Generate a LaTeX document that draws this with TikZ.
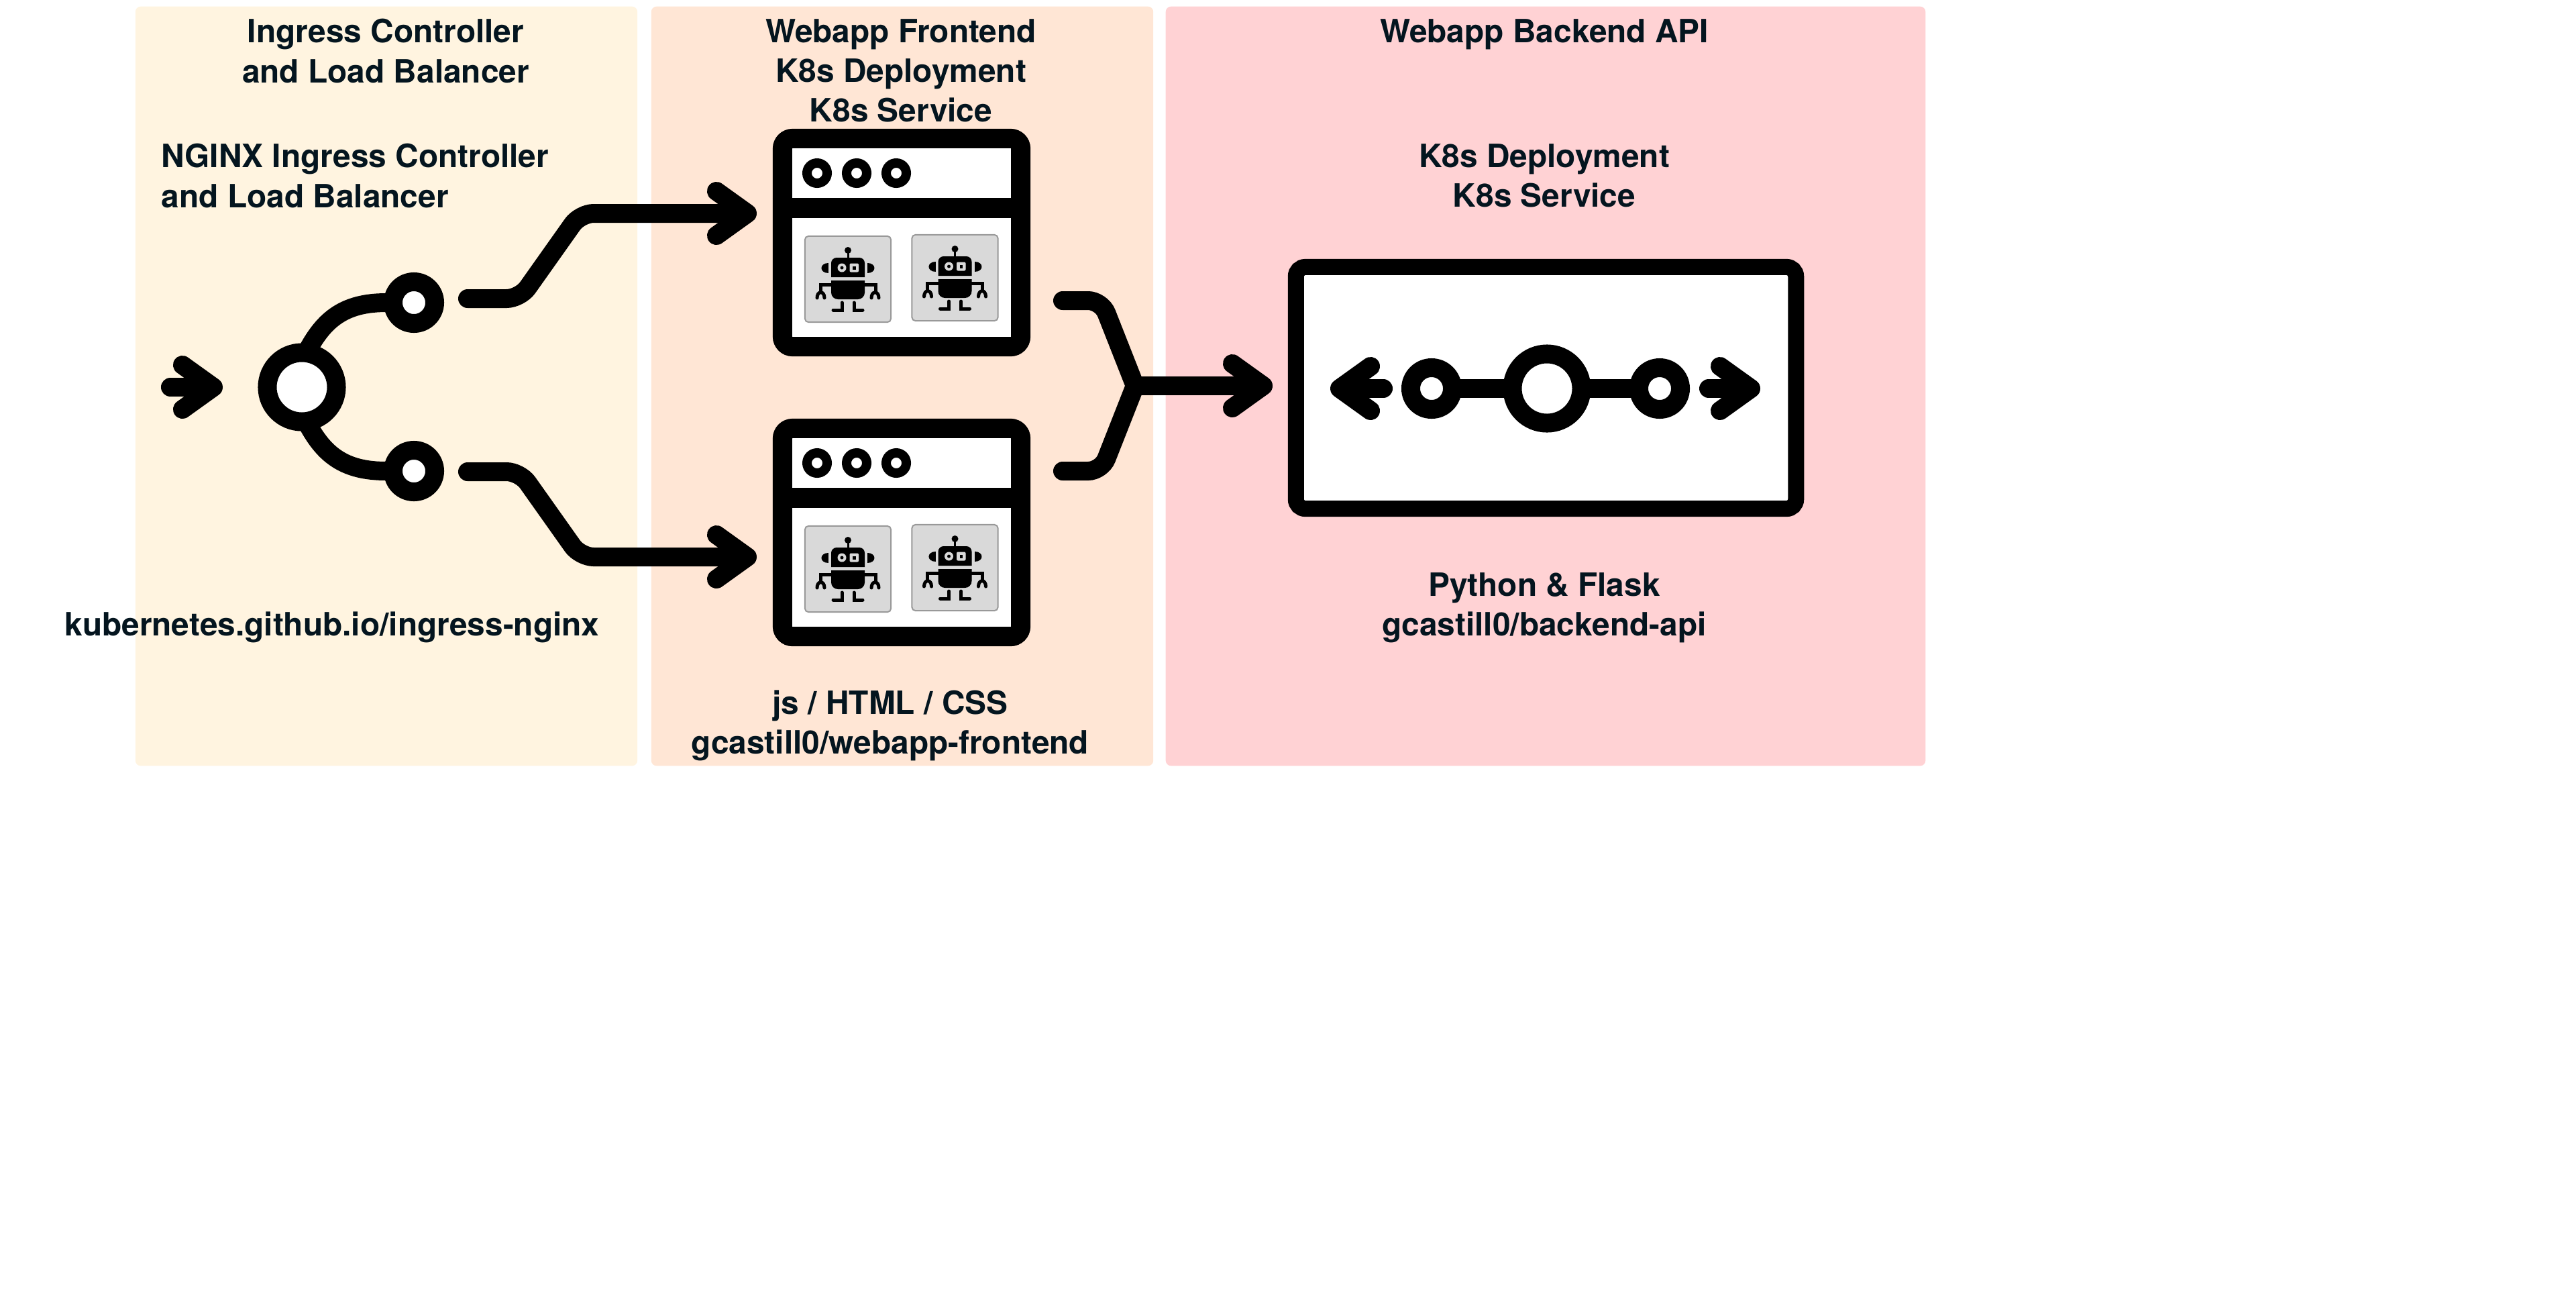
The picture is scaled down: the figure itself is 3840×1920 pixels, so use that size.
\documentclass[tikz,border=0pt]{standalone}
\usepackage{fontspec}
\setmainfont{TeX Gyre Heros}
\usetikzlibrary{arrows.meta}
\definecolor{panA}{RGB}{255,244,224}
\definecolor{panB}{RGB}{255,230,213}
\definecolor{panC}{RGB}{255,210,212}
\definecolor{lbl}{RGB}{4,21,31}
\definecolor{podfill}{RGB}{217,217,217}
\definecolor{podline}{RGB}{153,153,153}

\begin{document}
\begin{tikzpicture}[
  x=0.01cm, y=-0.01cm,
  pan/.style={rectangle, rounded corners=0.08cm, inner sep=0pt, minimum height=11.31cm},
  ttl/.style={font=\fontsize{13.6}{16.8}\selectfont\bfseries, align=center, text=lbl, inner sep=0pt},
  fan/.style={circle, draw=black, fill=white, inner sep=0pt},
  wire/.style={draw=black, line width=0.28cm, line cap=round, rounded corners=0.2cm},
  flow/.style={wire, -{Straight Barb[round,length=0.46cm,width=0.66cm]}},
  stub/.style={draw=black, line width=0.28cm},
  win/.style={rectangle, draw=black, fill=white, line width=0.29cm, rounded corners=0.15cm,
              minimum width=3.55cm, minimum height=3.10cm, inner sep=0pt},
  dot/.style={circle, draw=black, fill=white, line width=0.14cm, minimum size=0.3cm, inner sep=0pt},
  pod/.style={rectangle, draw=podline, fill=podfill, line width=0.02cm, rounded corners=0.05cm,
              minimum size=1.28cm, inner sep=0pt},
  limb/.style={draw=black, line width=0.05cm, line cap=round},
  robot/.pic={
    \fill (0,-43) circle (5);
    \draw[line width=0.03cm] (0,-43) -- (0,-30);
    \fill (-25,-3) [rounded corners=0.08cm] -- (-25,-32) -- (25,-32) [sharp corners] -- (25,-3) -- cycle;
    \fill (-25,2) -- (25,2) [rounded corners=0.1cm] -- (25,30) -- (-25,30) [sharp corners] -- cycle;
    \fill (-29,-24) .. controls (-43,-24) and (-43,-9) .. (-29,-9) -- cycle;
    \fill (29,-24) .. controls (43,-24) and (43,-9) .. (29,-9) -- cycle;
    \fill[podfill] (-9,-17) circle (6.5);
    \fill (-9,-17) circle (2.5);
    \fill[podfill, rounded corners=0.02cm] (2.5,-23.5) rectangle (16,-10.5);
    \fill (7,-19) rectangle (11.5,-14.5);
    \draw[limb] (-25,8) -- (-41,8) -- (-41,19);
    \draw[limb] (25,8) -- (41,8) -- (41,19);
    \draw[limb] (-46,28) .. controls (-46,17) and (-35,17) .. (-35,28);
    \draw[limb] (35,28) .. controls (35,17) and (46,17) .. (46,28);
    \draw[limb] (-9,35) -- (-9,46) -- (-22,46);
    \draw[limb] (9,35) -- (9,46) -- (22,46);
  },
  webwin/.pic={
    \node[win] (-box) at (0,0) {};
    \draw[draw=black, line width=0.30cm] (-box.west) ++(0,-51.5) -- ++(384,0);
    \node[dot] (-d1) at (-126,-103.5) {};
    \node[dot] (-d2) at (-67,-103.5) {};
    \node[dot] (-d3) at (-8,-103.5) {};
    \node[pod] (-p1) at (-80,54.5) {};
    \node[pod] (-p2) at (79.5,52.5) {};
    \pic at (-p1.center) {robot};
    \pic at (-p2.center) {robot};
  },
]
\useasboundingbox (0,0) rectangle (3840,1920);

% ============ panels ============
\node[pan, fill=panA, minimum width=7.48cm] (ingress) at (576,575.5) {};
\node[pan, fill=panB, minimum width=7.48cm] (front) at (1345,575.5) {};
\node[pan, fill=panC, minimum width=11.32cm] (back) at (2304,575.5) {};

% ============ ingress ============
\node[ttl] (ingTitle) at (575,76) {Ingress Controller\\and Load Balancer};
\node[ttl, align=left, anchor=west] (ingName) at (240,262) {NGINX Ingress Controller\\and Load Balancer};
\node[ttl] (ingUrl) at (495,935) {kubernetes.github.io/ingress-nginx};

\node[fan, line width=0.28cm, minimum size=1.03cm] (fan0) at (450,577) {};
\node[fan, line width=0.28cm, minimum size=0.62cm] (fan1) at (617,451) {};
\node[fan, line width=0.28cm, minimum size=0.62cm] (fan2) at (617,702) {};
\coordinate (inA) at (254,577);
\coordinate (inB) at (332,577);
\draw[flow] (inA) -- (inB);
\draw[stub, shorten <=-0.08cm, shorten >=-0.06cm] (fan0.78) .. controls (482,480) and (510,450) .. (fan1.west);
\draw[stub, shorten <=-0.08cm, shorten >=-0.06cm] (fan0.-78) .. controls (482,674) and (510,703) .. (fan2.west);

% ============ frontend ============
\node[ttl] (froTitle) at (1343,105) {Webapp Frontend\\K8s Deployment\\K8s Service};
\node[ttl] (froTech) at (1327,1081) {js / HTML / CSS\\gcastill0/webapp-frontend};

\pic (wa) at (1344,361.5) {webwin};
\pic (wb) at (1344,793.5) {webwin};

% the two routes out of the balancer
\coordinate (upA) at (697,445);
\coordinate (upB) at (1128,318);
\coordinate (dnA) at (697,703);
\coordinate (dnB) at (1128,830);
\draw[flow] (upA) -- (775,445) -- (865,318) -- (upB);
\draw[flow] (dnA) -- (775,703) -- (865,830) -- (dnB);

% ============ backend ============
\node[ttl] (bacTitle) at (2302,51) {Webapp Backend API};
\node[ttl] (bacKind) at (2302,262) {K8s Deployment\\K8s Service};
\node[ttl] (bacTech) at (2302,906) {Python \& Flask\\gcastill0/backend-api};

\node[rectangle, draw=black, fill=white, line width=0.24cm, rounded corners=0.14cm,
      minimum width=7.45cm, minimum height=3.60cm, inner sep=0pt] (svc) at (2304.5,578) {};
\node[fan, line width=0.28cm, minimum size=1.03cm] (hub) at (2306,579) {};
\node[fan, line width=0.28cm, minimum size=0.62cm] (hubL) at (2134,579) {};
\node[fan, line width=0.28cm, minimum size=0.62cm] (hubR) at (2474,579) {};
\draw[stub, shorten <=-0.04cm, shorten >=-0.04cm] (hub.west) -- (hubL.east);
\draw[stub, shorten <=-0.04cm, shorten >=-0.04cm] (hub.east) -- (hubR.west);
\coordinate (outLa) at (2062,579);
\coordinate (outLb) at (1983,579);
\coordinate (outRa) at (2547,579);
\coordinate (outRb) at (2624,579);
\draw[flow] (outLa) -- (outLb);
\draw[flow] (outRa) -- (outRb);

% merge towards the api
\coordinate (mgA) at (1584,448);
\coordinate (mgB) at (1584,702);
\coordinate (mgC) at (1692,575);
\coordinate (mgD) at (1897,575);
\draw[wire] (mgA) -- (1642,448) -- (mgC);
\draw[wire] (mgB) -- (1642,702) -- (mgC);
\draw[flow] (mgC) -- (mgD);

\end{tikzpicture}
\end{document}
